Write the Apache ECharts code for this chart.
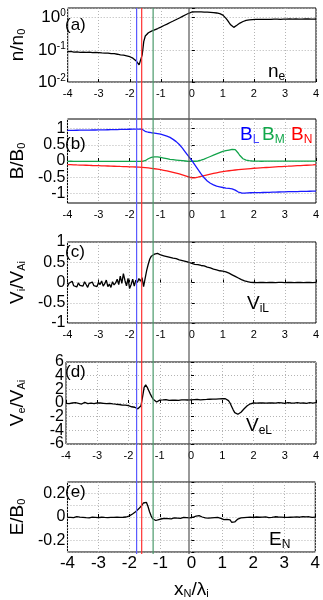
<!DOCTYPE html>
<html><head><meta charset="utf-8">
<script src="https://cdn.jsdelivr.net/npm/echarts@6/dist/echarts.min.js"></script>
<style>html,body{margin:0;padding:0;background:#fff}#c{width:323px;height:600px}</style>
</head><body><div id="c"></div>
<script>
// x positions (x_N / lambda_i)
var xs = [-4,
-3.95,-3.9,-3.85,-3.8,-3.75,-3.7,-3.65,-3.6,-3.55,-3.5,-3.45,-3.4,-3.35,-3.3,-3.25,-3.2,-3.15,-3.1,-3.05,-3,
-2.95,-2.9,-2.85,-2.8,-2.75,-2.7,-2.65,-2.6,-2.55,-2.5,-2.45,-2.4,-2.35,-2.3,-2.25,-2.2,-2.15,-2.1,-2.05,-2,
-1.95,-1.9,-1.85,-1.8,-1.75,-1.7,-1.65,-1.6,-1.55,-1.5,-1.45,-1.4,-1.35,-1.3,-1.25,-1.2,-1.15,-1.1,-1.05,-1,
-0.95,-0.9,-0.85,-0.8,-0.75,-0.7,-0.65,-0.6,-0.55,-0.5,-0.45,-0.4,-0.35,-0.3,-0.25,-0.2,-0.15,-0.1,-0.05,0,
0.05,0.1,0.15,0.2,0.25,0.3,0.35,0.4,0.45,0.5,0.55,0.6,0.65,0.7,0.75,0.8,0.85,0.9,0.95,1,
1.05,1.1,1.15,1.2,1.25,1.3,1.35,1.4,1.45,1.5,1.55,1.6,1.65,1.7,1.75,1.8,1.85,1.9,1.95,2,
2.05,2.1,2.15,2.2,2.25,2.3,2.35,2.4,2.45,2.5,2.55,2.6,2.65,2.7,2.75,2.8,2.85,2.9,2.95,3,
3.05,3.1,3.15,3.2,3.25,3.3,3.35,3.4,3.45,3.5,3.55,3.6,3.65,3.7,3.75,3.8,3.85,3.9,3.95,4];

// (a) density n/n0
var ne = [0.088,
0.086,0.089,0.087,0.085,0.088,0.086,0.087,0.084,0.086,0.085,0.087,0.084,0.083,0.085,0.084,0.082,0.084,0.083,0.081,0.082,
0.081,0.08,0.082,0.079,0.078,0.079,0.077,0.076,0.075,0.076,0.074,0.073,0.072,0.07,0.069,0.068,0.066,0.065,0.063,0.061,
0.058,0.055,0.051,0.046,0.04,0.034,0.031,0.07,0.18,0.27,0.31,0.34,0.36,0.38,0.4,0.42,0.44,0.46,0.48,0.51,
0.54,0.57,0.6,0.63,0.67,0.71,0.75,0.79,0.83,0.88,0.93,0.98,1.04,1.1,1.16,1.23,1.3,1.37,1.44,1.5,
1.52,1.51,1.53,1.52,1.5,1.51,1.5,1.49,1.5,1.48,1.47,1.46,1.45,1.43,1.42,1.4,1.37,1.33,1.27,1.2,
1.1,0.95,0.82,0.7,0.6,0.53,0.5,0.53,0.58,0.63,0.68,0.72,0.76,0.8,0.83,0.85,0.86,0.87,0.87,0.88,
0.88,0.89,0.88,0.88,0.89,0.89,0.88,0.89,0.89,0.9,0.89,0.89,0.9,0.89,0.9,0.9,0.89,0.9,0.9,0.89,
0.9,0.9,0.91,0.9,0.9,0.9,0.91,0.9,0.9,0.91,0.9,0.91,0.91,0.9,0.91,0.91,0.9,0.91,0.9,0.91];

// (b) magnetic field components B/B0
var bL = [0.95,
0.95,0.95,0.951,0.951,0.952,0.952,0.953,0.953,0.954,0.955,0.955,0.956,0.957,0.957,0.958,0.959,0.96,0.96,0.961,0.962,
0.963,0.964,0.965,0.966,0.967,0.968,0.969,0.97,0.971,0.972,0.973,0.974,0.975,0.976,0.977,0.978,0.979,0.98,0.981,0.982,
0.983,0.984,0.985,0.986,0.987,0.988,0.988,0.985,0.96,0.92,0.9,0.89,0.88,0.875,0.87,0.865,0.86,0.85,0.84,0.83,
0.82,0.8,0.79,0.77,0.75,0.73,0.7,0.67,0.64,0.6,0.56,0.51,0.46,0.4,0.34,0.27,0.21,0.14,0.08,0.02,
-0.05,-0.12,-0.19,-0.26,-0.33,-0.4,-0.46,-0.52,-0.57,-0.62,-0.66,-0.69,-0.72,-0.74,-0.76,-0.78,-0.79,-0.8,-0.81,-0.82,
-0.83,-0.84,-0.84,-0.85,-0.86,-0.86,-0.87,-0.9,-0.93,-0.96,-0.98,-0.99,-1,-0.995,-0.99,-0.985,-0.984,-0.983,-0.982,-0.981,
-0.98,-0.979,-0.978,-0.977,-0.976,-0.975,-0.974,-0.973,-0.971,-0.97,-0.968,-0.966,-0.965,-0.963,-0.962,-0.96,-0.958,-0.957,-0.955,-0.954,
-0.952,-0.951,-0.95,-0.949,-0.948,-0.947,-0.946,-0.945,-0.944,-0.943,-0.942,-0.941,-0.94,-0.939,-0.938,-0.937,-0.936,-0.935,-0.933,-0.932];
var bM = [-0.01,
-0.01,-0.008,-0.012,-0.01,-0.009,-0.011,-0.01,-0.012,-0.009,-0.01,-0.011,-0.01,-0.008,-0.01,-0.012,-0.01,-0.009,-0.011,-0.01,-0.01,
-0.012,-0.01,-0.009,-0.011,-0.01,-0.012,-0.01,-0.009,-0.011,-0.01,-0.012,-0.011,-0.01,-0.009,-0.012,-0.01,-0.011,-0.012,-0.01,-0.011,
-0.012,-0.013,-0.012,-0.014,-0.013,-0.014,-0.015,-0.012,-0.005,0.01,0.04,0.07,0.09,0.11,0.12,0.13,0.135,0.13,0.12,0.11,
0.1,0.09,0.08,0.07,0.06,0.05,0.045,0.04,0.035,0.03,0.025,0.02,0.015,0.01,0.005,0,-0.005,-0.01,-0.01,-0.008,
-0.01,-0.008,-0.005,0,0.01,0.025,0.04,0.06,0.08,0.1,0.12,0.14,0.16,0.18,0.2,0.22,0.24,0.26,0.28,0.3,
0.31,0.32,0.33,0.34,0.35,0.36,0.37,0.35,0.3,0.24,0.17,0.11,0.07,0.04,0.025,0.015,0.01,0.005,0,-0.003,
-0.005,-0.004,-0.006,-0.005,-0.007,-0.005,-0.006,-0.004,-0.005,-0.006,-0.005,-0.007,-0.006,-0.005,-0.004,-0.006,-0.005,-0.006,-0.005,-0.004,
-0.005,-0.006,-0.004,-0.005,-0.006,-0.005,-0.004,-0.006,-0.005,-0.005,-0.006,-0.004,-0.005,-0.006,-0.005,-0.004,-0.005,-0.006,-0.005,-0.005];
var bN = [-0.11,
-0.112,-0.114,-0.116,-0.118,-0.12,-0.122,-0.123,-0.125,-0.127,-0.129,-0.13,-0.132,-0.134,-0.135,-0.137,-0.139,-0.14,-0.142,-0.144,-0.145,
-0.147,-0.149,-0.15,-0.152,-0.154,-0.155,-0.157,-0.159,-0.16,-0.162,-0.164,-0.165,-0.167,-0.169,-0.17,-0.172,-0.174,-0.175,-0.177,-0.179,
-0.18,-0.182,-0.184,-0.186,-0.188,-0.19,-0.192,-0.195,-0.2,-0.205,-0.21,-0.216,-0.222,-0.228,-0.234,-0.24,-0.247,-0.254,-0.261,-0.268,
-0.278,-0.288,-0.298,-0.308,-0.318,-0.329,-0.34,-0.352,-0.364,-0.376,-0.389,-0.402,-0.415,-0.429,-0.443,-0.458,-0.473,-0.489,-0.505,-0.52,
-0.522,-0.52,-0.512,-0.502,-0.49,-0.478,-0.466,-0.454,-0.442,-0.43,-0.418,-0.407,-0.396,-0.385,-0.375,-0.365,-0.356,-0.347,-0.338,-0.33,
-0.323,-0.316,-0.309,-0.302,-0.296,-0.29,-0.284,-0.278,-0.273,-0.268,-0.263,-0.258,-0.253,-0.249,-0.245,-0.241,-0.237,-0.233,-0.229,-0.225,
-0.222,-0.219,-0.216,-0.213,-0.21,-0.207,-0.204,-0.201,-0.198,-0.195,-0.192,-0.189,-0.186,-0.183,-0.18,-0.177,-0.174,-0.171,-0.168,-0.165,
-0.163,-0.161,-0.158,-0.156,-0.153,-0.151,-0.148,-0.146,-0.143,-0.141,-0.138,-0.136,-0.133,-0.131,-0.128,-0.126,-0.123,-0.121,-0.118,-0.115];

// (c) ion velocity ViL / VAi
var viL = [-0.1,
-0.02,-0.06,0.03,-0.08,-0.04,-0.11,-0.01,-0.07,-0.03,-0.09,0.02,-0.05,-0.12,-0.02,-0.06,0.01,-0.08,-0.04,-0.1,0,
-0.05,0.04,-0.09,-0.03,0.06,-0.1,-0.04,-0.12,0.02,-0.06,-0.01,0.08,-0.05,0.16,-0.02,0.22,0.05,-0.08,0.1,-0.15,
-0.05,0.08,-0.09,0.06,0,0.1,0.03,0.12,-0.1,0.1,0.3,0.45,0.58,0.65,0.67,0.7,0.66,0.72,0.69,0.68,
0.69,0.66,0.67,0.64,0.65,0.62,0.63,0.6,0.61,0.59,0.58,0.56,0.57,0.54,0.53,0.52,0.51,0.5,0.48,0.47,
0.47,0.45,0.44,0.44,0.43,0.42,0.4,0.41,0.39,0.38,0.37,0.36,0.35,0.33,0.32,0.31,0.3,0.29,0.29,0.28,
0.27,0.26,0.25,0.23,0.21,0.19,0.17,0.15,0.13,0.11,0.09,0.07,0.05,0.04,0.03,0.02,0.01,0.005,0,0,
0,-0.005,0,0.003,-0.003,0,0.002,-0.004,0,0.003,-0.002,0,0.002,-0.003,0,0.002,-0.002,0.001,0,-0.002,
0,0.002,-0.003,0,0.002,-0.002,0,0.003,-0.001,0,0.002,-0.003,0,0.001,-0.002,0,0.002,-0.001,0,0.001];

// (d) electron velocity VeL / VAi
var veL = [-0.05,
0.05,-0.1,0.08,0,-0.12,0.05,0.12,-0.05,0.02,-0.15,-0.05,0.1,0,-0.08,0.05,-0.02,0.08,-0.1,-0.05,0.03,
-0.08,0,-0.12,-0.05,0.05,-0.1,-0.15,-0.05,-0.2,-0.12,-0.25,-0.18,-0.3,-0.22,-0.35,-0.3,-0.38,-0.32,-0.45,-0.4,
-0.48,-0.55,-0.5,-0.62,-0.7,-0.85,-0.95,-0.4,0.9,2.3,2.65,2.3,1.8,1.3,0.85,0.5,0.25,0.15,0.3,0.42,
0.38,0.45,0.4,0.5,0.42,0.38,0.46,0.4,0.35,0.42,0.45,0.38,0.4,0.47,0.42,0.45,0.5,0.44,0.48,0.45,
0.48,0.5,0.46,0.52,0.5,0.47,0.53,0.5,0.55,0.52,0.58,0.55,0.6,0.56,0.62,0.58,0.65,0.6,0.7,0.62,
0.6,0.62,0.55,0.35,0,-0.5,-1,-1.4,-1.6,-1.65,-1.55,-1.35,-1.1,-0.85,-0.6,-0.4,-0.25,-0.12,-0.05,0,
0.02,-0.03,0.05,0,-0.04,0.03,0.06,-0.02,0.04,0,-0.05,0.02,0.05,-0.03,0,0.04,-0.02,0.03,0,-0.04,
0.02,0.05,-0.02,0,0.04,-0.03,0.02,0.06,0,-0.02,0.04,0,0.03,-0.04,0.02,0.05,0,-0.03,0.02,0.04];

// (e) normal electric field EN / B0
var eN = [-0.003,
0.002,-0.004,0,-0.006,-0.002,0.003,-0.005,-0.001,-0.007,-0.003,0.001,-0.006,-0.002,-0.008,-0.004,-0.001,-0.006,-0.003,-0.009,-0.005,
-0.006,-0.002,-0.008,-0.004,-0.01,-0.005,-0.007,-0.003,-0.008,-0.004,-0.006,-0.002,-0.005,-0.003,-0.006,-0.002,-0.004,0,0.004,0.01,
0.018,0.026,0.035,0.045,0.055,0.07,0.085,0.1,0.12,0.135,0.125,0.09,0.045,0.01,-0.015,-0.025,-0.03,-0.03,-0.022,-0.018,
-0.015,-0.02,-0.012,-0.018,-0.014,-0.01,-0.016,-0.012,-0.008,-0.014,-0.01,-0.006,-0.012,-0.008,-0.004,-0.01,-0.006,-0.002,-0.008,-0.004,
-0.002,0.003,0.008,0.004,0.012,0.006,0,-0.004,-0.008,-0.006,-0.01,-0.004,-0.008,-0.012,-0.006,-0.01,-0.004,-0.008,-0.012,-0.01,
-0.022,-0.035,-0.02,-0.01,-0.025,-0.045,-0.055,-0.042,-0.028,-0.018,-0.012,-0.008,-0.01,-0.006,-0.008,-0.004,-0.006,-0.002,-0.005,-0.003,
-0.004,0,-0.005,-0.002,-0.006,-0.001,-0.004,0.001,-0.003,-0.005,0,-0.004,-0.002,0.002,-0.003,0,-0.005,-0.001,0.001,-0.003,
0,-0.004,0.002,-0.002,0.003,-0.001,-0.004,0.001,0.004,-0.002,0,0.003,-0.003,0.001,-0.002,0.002,0,-0.003,0.001,-0.001];

// vertical marker lines (x positions) and their colours
var markerX = [-1.65, -1.49, -1.13, 0];
var markerColors = ['#5a5aff', '#ff3030', '#4a9a6a', '#555555'];

// y tick label values
var bTicks = [-1, -0.5, 0, 0.5, 1];
var dTicksA = [-6, -2, 2, 6];
var dTicksB = [-4, 0, 4];

var F = 'Liberation Sans, Arial, Helvetica, sans-serif';
function pairs(y) { return xs.map(function (x, i) { return [x, y[i]]; }); }

var grids = [
  {top: 8, height: 74},
  {top: 119, height: 84},
  {top: 242, height: 81},
  {top: 362, height: 82},
  {top: 482, height: 72}
];
var gridOpts = grids.map(function (g) {
  return {left: 62, right: 7, top: g.top, height: g.height, show: true, borderColor: '#000', borderWidth: 1, backgroundColor: 'transparent'};
});
gridOpts.push({left: 62, right: 7, top: 8, bottom: 46, show: false});

var splitLn = {show: true, lineStyle: {color: '#b4b4b4', type: [1, 2], width: 1}};
function xAx(gi, big) {
  return {
    type: 'value', gridIndex: gi, min: -4, max: 4, interval: 1,
    axisLine: {show: false},
    axisTick: {show: true, inside: true, length: 3, lineStyle: {color: '#000'}},
    axisLabel: {fontSize: big ? 17 : 11, color: '#000', margin: big ? 3 : 6, fontFamily: F},
    splitLine: splitLn
  };
}
var xAxes = [xAx(0), xAx(1), xAx(2), xAx(3), xAx(4, true)];
xAxes[4].name = 'x{sub|N}/λ{sub|i}';
xAxes[4].nameLocation = 'middle';
xAxes[4].nameGap = 28;
xAxes[4].nameTextStyle = {fontSize: 19, color: '#000', fontFamily: F,
  rich: {sub: {fontSize: 11, verticalAlign: 'bottom', fontFamily: F, color: '#000', padding: [8, 0, 0, 0]}}};
xAxes.push({type: 'value', gridIndex: 5, min: -4, max: 4, show: false});

var nameStyle = {fontSize: 19, color: '#000', fontFamily: F,
  rich: {sub: {fontSize: 11, fontFamily: F, color: '#000', verticalAlign: 'bottom', padding: [8, 0, 0, 0]}}};
function yAx(gi, o) {
  var base = {
    gridIndex: gi,
    axisLine: {show: false},
    axisTick: {show: true, inside: true, length: 3, lineStyle: {color: '#000'}},
    axisLabel: {fontSize: 16, color: '#000', margin: 2, fontFamily: F},
    splitLine: splitLn,
    nameLocation: 'middle', nameRotate: 90, nameGap: 39, nameTextStyle: nameStyle
  };
  for (var k in o) base[k] = o[k];
  return base;
}
var yAxes = [
  yAx(0, {type: 'log', logBase: 10, min: 0.01, max: 2, name: 'n/n{sub|0}',
    axisLabel: {fontSize: 17, color: '#000', margin: 2, fontFamily: F,
      formatter: function (v) {
        var l = Math.log10(v), e = Math.round(l);
        if (Math.abs(l - e) > 1e-6) return '';
        return '10{sup|' + e + '}';
      },
      rich: {sup: {fontSize: 10, fontFamily: F, color: '#000', verticalAlign: 'top', padding: [0, 0, 8, 0]}}}}),
  yAx(1, {type: 'value', min: -1.3, max: 1.3, name: 'B/B{sub|0}',
    axisTick: {show: true, inside: true, length: 3, lineStyle: {color: '#000'}, customValues: bTicks},
    axisLabel: {fontSize: 16, color: '#000', margin: 2, fontFamily: F, customValues: bTicks}}),
  yAx(2, {type: 'value', min: -1, max: 1, interval: 0.5, name: 'V{sub|i}/V{sub|Ai}',
    axisLabel: {fontSize: 16, color: '#000', margin: 2, fontFamily: F, showMinLabel: true, showMaxLabel: true}}),
  yAx(3, {type: 'value', min: -6, max: 6, interval: 2, name: 'V{sub|e}/V{sub|Ai}',
    axisLabel: {fontSize: 16, color: '#000', margin: 2, fontFamily: F, customValues: dTicksA,
      showMinLabel: true, showMaxLabel: true}}),
  yAx(4, {type: 'value', min: -0.3, max: 0.3, interval: 0.1, name: 'E/B{sub|0}',
    axisLabel: {fontSize: 16, color: '#000', margin: 2, fontFamily: F,
      formatter: function (v) {
        var k = Math.round(v * 10);
        if (k % 2 !== 0) return '';
        return String(k / 10);
      }}}),
  {type: 'value', gridIndex: 5, min: 0, max: 1, show: false},
  {type: 'value', gridIndex: 3, min: -6, max: 6, interval: 2, position: 'left', offset: 0,
    axisLine: {show: false}, axisTick: {show: false}, splitLine: {show: false},
    axisLabel: {fontSize: 16, color: '#000', margin: 2, fontFamily: F, customValues: dTicksB}}
];

function blk(gi, data, color) {
  return {type: 'line', xAxisIndex: gi, yAxisIndex: gi, data: pairs(data), showSymbol: false, symbol: 'none',
    silent: true, animation: false, lineStyle: {color: color || '#000', width: 1.3}, z: 3};
}
var series = [
  blk(0, ne), blk(1, bM, '#12a34a'), blk(1, bN, '#ff1a1a'), blk(1, bL, '#1a1aff'),
  blk(2, viL), blk(3, veL), blk(4, eN)
];
markerX.forEach(function (x, i) {
  series.push({type: 'line', xAxisIndex: 5, yAxisIndex: 5, data: [[x, 0], [x, 1]], showSymbol: false, symbol: 'none',
    silent: true, animation: false, lineStyle: {color: markerColors[i], width: 1.2}, z: 4});
});

function txt(x, y, text, size, fill, rich) {
  return {type: 'text', left: x, top: y, z: 10, silent: true,
    style: {text: text, fontSize: size, fontFamily: F, fill: fill || '#000', rich: rich || {}}};
}
function subRich(color) {
  return {sub: {fontSize: 12, fontFamily: F, fill: color || '#000', verticalAlign: 'bottom', padding: [10, 0, 0, 0]}};
}
var graphics = [
  txt(65, 17, '(a)', 17), txt(65, 136, '(b)', 17), txt(65, 244, '(c)', 17), txt(65, 364, '(d)', 17), txt(65, 484, '(e)', 17),
  txt(268, 62, 'n{sub|e}', 19, '#000', subRich()),
  txt(247, 294, 'V{sub|iL}', 19, '#000', subRich()),
  txt(246, 416, 'V{sub|eL}', 19, '#000', subRich()),
  txt(269, 530, 'E{sub|N}', 19, '#000', subRich()),
  txt(240, 125, 'B{sub|L}', 19, '#0000ff', subRich('#4444ff')),
  txt(262, 125, 'B{sub|M}', 19, '#11a84a', subRich('#11a84a')),
  txt(291, 125, 'B{sub|N}', 19, '#ff0000', subRich('#ff0000'))
];

var chart = echarts.init(document.getElementById('c'), null, {renderer: 'canvas'});
chart.setOption({
  animation: false,
  backgroundColor: '#fff',
  grid: gridOpts,
  xAxis: xAxes,
  yAxis: yAxes,
  series: series,
  graphic: graphics
});
</script>
</body></html>
